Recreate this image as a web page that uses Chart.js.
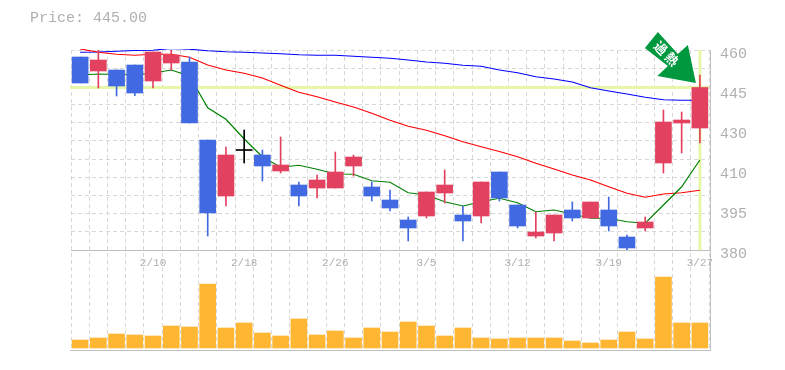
<!DOCTYPE html>
<html>
<head>
<meta charset="utf-8">
<title>Price chart</title>
<script src="https://cdn.jsdelivr.net/npm/chart.js@4"></script>
<style>
html, body { margin: 0; padding: 0; background: #fff; overflow: hidden; }
#wrap { position: relative; width: 785px; height: 370px; }
#price { position: absolute; left: 30px; top: 10px; font: 15px "Liberation Mono", monospace; color: #b0b0b0; }
</style>
</head>
<body>
<div id="wrap">
  <div id="price">Price: 445.00</div>
  <canvas id="stock" width="785" height="370"></canvas>
</div>
<script>
// tick labels only on some days
const days = ['', '', '', '', '2/10', '', '', '', '', '2/18', '', '', '', '', '2/26', '', '', '', '', '3/5', '', '', '', '', '3/12', '', '', '', '', '3/19', '', '', '', '', '3/27'];

const opens = [457.2, 451.6, 452, 454, 447.6, 454.8, 455.2, 424, 401.6, 419.8, 418, 411.6, 406, 404.8, 404.8, 413.6, 405.2, 400, 392, 393.6, 402.8, 394, 393.6, 411.2, 398, 385.6, 386.8, 396, 392.8, 396, 385.2, 388.8, 414.8, 430.8, 428.8];
const closes = [446.8, 456, 445.6, 442.8, 459.2, 458, 430.8, 394.8, 418, 420.2, 413.6, 414, 401.6, 408, 411.2, 417.2, 401.6, 396.8, 388.8, 403.2, 406, 391.6, 407.2, 400.8, 389.6, 387.2, 394, 392.8, 399.2, 389.6, 380.8, 391.2, 431.2, 432, 445];
const highs = [457.2, 460, 452, 454, 459.2, 460, 457.2, 424, 421.2, 428, 420, 425.2, 407.2, 410, 419.2, 418, 407.2, 404, 393.2, 403.2, 412, 397.6, 407.2, 411.2, 398, 395.2, 394, 399.2, 399.2, 401.2, 386, 393.2, 436, 435.2, 450];
const lows = [446.8, 444.8, 441.6, 441.7, 444.8, 452, 430.8, 385.6, 397.6, 414.8, 407.6, 410.8, 397.6, 400.8, 404.8, 409.6, 399.6, 395.6, 383.6, 392.8, 398.8, 383.6, 390.8, 399.6, 388.8, 384.8, 383.6, 391.6, 392.8, 387.6, 380, 387.6, 410.8, 418.8, 422.8];

const maShort = [450, 450.4, 450.2, 450, 450.8, 452, 449.6, 436.9, 432.3, 424.4, 417.3, 413.1, 413.9, 412.3, 410.4, 410.3, 407.7, 407.1, 402.9, 402, 399.3, 397.6, 399.3, 400.7, 398.9, 395.3, 396, 394.4, 392.7, 392.7, 391.3, 390.7, 398, 405.3, 416];
const maMid = [460.4, 459.1, 458.3, 457.9, 458.3, 458.3, 457.1, 454, 452, 450.7, 448.8, 445.9, 443.1, 441.3, 439.2, 437.2, 434.7, 431.9, 429.5, 427.9, 425.7, 423.3, 421.3, 419.4, 417.3, 414.7, 412.4, 410, 408, 405.3, 402.7, 401.1, 402.4, 402.9, 403.9];
const maLong = [459.1, 459.2, 459.5, 459.8, 459.9, 460.6, 460.3, 459.7, 459.3, 459.1, 458.8, 458.5, 458.1, 457.9, 457.9, 457.5, 457.1, 456.7, 456, 455.2, 454.7, 453.9, 453.5, 452, 450.9, 449.3, 448.4, 447.2, 444.9, 443.6, 442.4, 441.1, 440.1, 439.9, 439.9];

const volumes = [8, 10, 14, 13, 12, 22, 21, 64, 20, 25, 15, 12, 29, 13, 17, 10, 20, 16, 26, 22, 12, 20, 10, 9, 10, 10, 10, 7, 5, 8, 16, 9, 71, 25, 25];

const yLabels = [460, 445, 430, 410, 395, 380];
const lastPrice = 445;

const RED = '#e2425f', BLUE = '#4169e1', LIME = '#e6f7a8', TEXT = '#b0b0b0';

function candleColor(i) {
    if (Math.abs(closes[i] - opens[i]) < 0.5) return '#000';
    return closes[i] > opens[i] ? RED : BLUE;
}
const colors = days.map((d, i) => candleColor(i));

const yMin = 380, yMax = 460;
const gridValues = [];
for (let i = 0; i <= 11; i++) gridValues.push(yMax - i * (yMax - yMin) / 11);
const labelValues = yLabels.map((l, i) => yMax - i * (yMax - yMin) / (yLabels.length - 1));

function isGridValue(v) {
    return gridValues.some(g => Math.abs(g - v) < 0.01);
}

// lime cross hair behind the candles, border lines, and the arrow on top
const decorations = {
    id: 'decorations',
    beforeDatasetsDraw(chart) {
        const { ctx, chartArea, scales } = chart;
        const px = scales.x.getPixelForValue(days.length - 1);
        const py = scales.y.getPixelForValue(lastPrice);
        ctx.save();
        ctx.strokeStyle = LIME;
        ctx.lineWidth = 3;
        ctx.beginPath();
        ctx.moveTo(chartArea.left - 1, py);
        ctx.lineTo(chartArea.right, py);
        ctx.moveTo(px, chartArea.top);
        ctx.lineTo(px, scales.y.bottom);
        ctx.stroke();
        ctx.restore();
    },
    afterDatasetsDraw(chart) {
        const { ctx, chartArea, scales } = chart;
        const px = scales.x.getPixelForValue(days.length - 1) - 4;
        const py = scales.y.getPixelForValue(lastPrice) - 4.5;
        ctx.save();
        ctx.strokeStyle = '#c0c0c0';
        ctx.lineWidth = 1;
        ctx.beginPath();
        ctx.moveTo(710.5, chartArea.top);
        ctx.lineTo(710.5, chartArea.bottom + 1);
        ctx.moveTo(chartArea.left - 1, chartArea.bottom + 0.5);
        ctx.lineTo(711, chartArea.bottom + 0.5);
        ctx.stroke();

        const arrow = [[0, 0], [-38.5, -7], [-28, -17], [-51, -35], [-38, -51], [-18, -29], [-8, -38]];
        ctx.fillStyle = '#00983f';
        ctx.beginPath();
        arrow.forEach((p, i) => i ? ctx.lineTo(px + p[0], py + p[1]) : ctx.moveTo(px + p[0], py + p[1]));
        ctx.closePath();
        ctx.fill();

        ctx.fillStyle = '#fff';
        ctx.font = 'bold 13px "Noto Sans CJK JP"';
        ctx.textAlign = 'center';
        ctx.textBaseline = 'middle';
        [['過', -35, -35], ['熱', -24, -24]].forEach(t => {
            ctx.save();
            ctx.translate(px + t[1], py + t[2]);
            ctx.rotate(Math.PI / 4);
            ctx.fillText(t[0], 0, 0);
            ctx.restore();
        });
        ctx.restore();
    }
};

const lineDefaults = { type: 'line', yAxisID: 'y', borderWidth: 1.2, pointRadius: 0, tension: 0, order: 3, clip: 1 };

new Chart(document.getElementById('stock').getContext('2d'), {
    type: 'bar',
    data: {
        labels: days,
        datasets: [
            { ...lineDefaults, label: 'MA short', data: maShort, borderColor: '#008000' },
            { ...lineDefaults, label: 'MA mid', data: maMid, borderColor: '#ff0000' },
            { ...lineDefaults, label: 'MA long', data: maLong, borderColor: '#0000ff' },
            {
                label: 'Wick', yAxisID: 'y', order: 2, grouped: false, barThickness: 1,
                data: days.map((d, i) => [lows[i], highs[i]]), backgroundColor: colors
            },
            {
                label: 'Body', yAxisID: 'y', order: 1, grouped: false, barThickness: 16,
                data: days.map((d, i) => [opens[i], closes[i]]), backgroundColor: colors
            },
            {
                label: 'Volume', yAxisID: 'vol', order: 1, grouped: false, barThickness: 16,
                data: volumes, backgroundColor: '#ffb733'
            }
        ]
    },
    options: {
        responsive: false,
        animation: false,
        events: [],
        layout: { padding: { left: 71, top: 50, bottom: 20, right: 0 } },
        plugins: { legend: { display: false }, tooltip: { enabled: false } },
        scales: {
            x: {
                position: { y: yMin },
                grid: { color: '#d8d8d8', lineWidth: 1, drawTicks: false },
                border: { color: '#c0c0c0', width: 1, dash: [4, 3] },
                ticks: {
                    autoSkip: false, maxRotation: 0, minRotation: 0, padding: 6,
                    color: TEXT, font: { family: '"Liberation Mono", monospace', size: 11 }
                }
            },
            y: {
                position: 'right', stack: 'panels', stackWeight: 2, min: yMin, max: yMax,
                afterBuildTicks(scale) {
                    const all = gridValues.concat(labelValues.filter(v => !isGridValue(v)));
                    scale.ticks = all.sort((a, b) => a - b).map(v => ({ value: v }));
                },
                afterFit(scale) { scale.width = 76; },
                grid: {
                    color: ctx => (ctx.tick && isGridValue(ctx.tick.value) ? '#d8d8d8' : 'rgba(0,0,0,0)'),
                    drawTicks: false
                },
                border: { display: false, dash: [4, 3] },
                ticks: {
                    autoSkip: false, padding: 11, labelOffset: 4, color: TEXT,
                    font: { family: '"Liberation Mono", monospace', size: 15 },
                    callback(v) {
                        const i = labelValues.findIndex(l => Math.abs(l - v) < 0.01);
                        return i < 0 ? '' : String(yLabels[i]);
                    }
                }
            },
            vol: {
                position: 'right', stack: 'panels', stackWeight: 1, min: -2, max: 98,
                afterFit(scale) { scale.width = 76; },
                grid: { display: false },
                border: { display: false },
                ticks: { display: false }
            }
        }
    },
    plugins: [decorations]
});
</script>
</body>
</html>
